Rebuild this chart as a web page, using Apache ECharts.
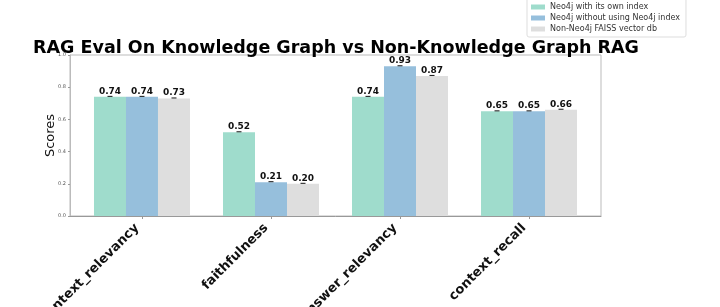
<!DOCTYPE html>
<html><head><meta charset="utf-8">
<script src="https://cdn.jsdelivr.net/npm/echarts@6/dist/echarts.min.js"></script>
<style>html,body{margin:0;padding:0;background:#fff}#c{width:720px;height:307px}</style>
</head><body><div id="c"></div>
<script>
const categories = ['context_relevancy', 'faithfulness', 'answer_relevancy', 'context_recall'];
const seriesNames = ['Neo4j with its own index', 'Neo4j without using Neo4j index', 'Non-Neo4j FAISS vector db'];
const ownIndex = [0.74, 0.52, 0.74, 0.65];
const withoutIndex = [0.74, 0.21, 0.93, 0.65];
const faiss = [0.73, 0.20, 0.87, 0.66];
const yTicks = [0.0, 0.2, 0.4, 0.6, 0.8, 1.0];
const colors = ['#9fdccc', '#96bfdc', '#dedede'];

const chart = echarts.init(document.getElementById('c'), null, {renderer: 'canvas'});
const font = 'DejaVu Sans';
function mk(name, vals, col) {
  return {
    name, type: 'bar', barWidth: 32, barGap: '0%',
    data: vals.map((v, i) => [i, v]),
    itemStyle: {color: col},
    label: {
      show: true, position: 'top', distance: 0,
      formatter: p => '{v|' + p.value[1].toFixed(2) + '}\n{c|}',
      rich: {
        v: {fontFamily: font, fontWeight: 'bold', fontSize: 9, color: '#111', lineHeight: 9},
        c: {width: 5, height: 1, backgroundColor: '#111', lineHeight: 1}
      }
    }
  };
}
chart.setOption({
  animation: false,
  title: {
    text: 'RAG Eval On Knowledge Graph vs Non-Knowledge Graph RAG',
    left: 331, top: 34, textAlign: 'center',
    textStyle: {fontFamily: font, fontWeight: 'bold', fontSize: 17.5, color: '#000'}
  },
  legend: {
    orient: 'vertical', left: 527, top: -3,
    padding: [6, 6, 4, 4], itemGap: 3,
    itemWidth: 14, itemHeight: 5, icon: 'rect',
    backgroundColor: '#fff', borderColor: '#ddd', borderWidth: 1, borderRadius: 2,
    textStyle: {fontFamily: font, fontSize: 8, color: '#333', lineHeight: 8}
  },
  grid: {left: 70, right: 119, top: 55, bottom: 91, show: true, borderColor: '#bbb', borderWidth: 1,
         outerBoundsMode: 'none', containLabel: false},
  xAxis: {
    type: 'value', min: -0.558, max: 3.558,
    splitLine: {show: false},
    axisLine: {show: true, lineStyle: {color: '#999'}},
    axisTick: {show: true, customValues: [0, 1, 2, 3], length: 3, lineStyle: {color: '#999'}},
    axisLabel: {
      customValues: [0, 1, 2, 3], rotate: 45, margin: 5, padding: [0, 7, 0, 0],
      formatter: v => categories[Math.round(v)] || '',
      fontFamily: font, fontWeight: 'bold', fontSize: 13, color: '#111'
    }
  },
  yAxis: {
    type: 'value', min: 0, max: 1, interval: 0.2,
    name: 'Scores', nameLocation: 'middle', nameGap: 13, nameRotate: 90, nameMoveOverlap: false,
    nameTextStyle: {fontFamily: font, fontSize: 13, color: '#111'},
    splitLine: {show: false},
    axisLine: {show: true, onZero: false, lineStyle: {color: '#bbb'}},
    axisTick: {show: true, length: 2, lineStyle: {color: '#999'}},
    axisLabel: {
      fontFamily: font, fontSize: 5, color: '#555', margin: 4,
      formatter: v => { const t = yTicks.find(x => Math.abs(x - v) < 1e-9); return (t === undefined ? v : t).toFixed(1); }
    }
  },
  series: [mk(seriesNames[0], ownIndex, colors[0]), mk(seriesNames[1], withoutIndex, colors[1]), mk(seriesNames[2], faiss, colors[2])]
});
</script></body></html>
